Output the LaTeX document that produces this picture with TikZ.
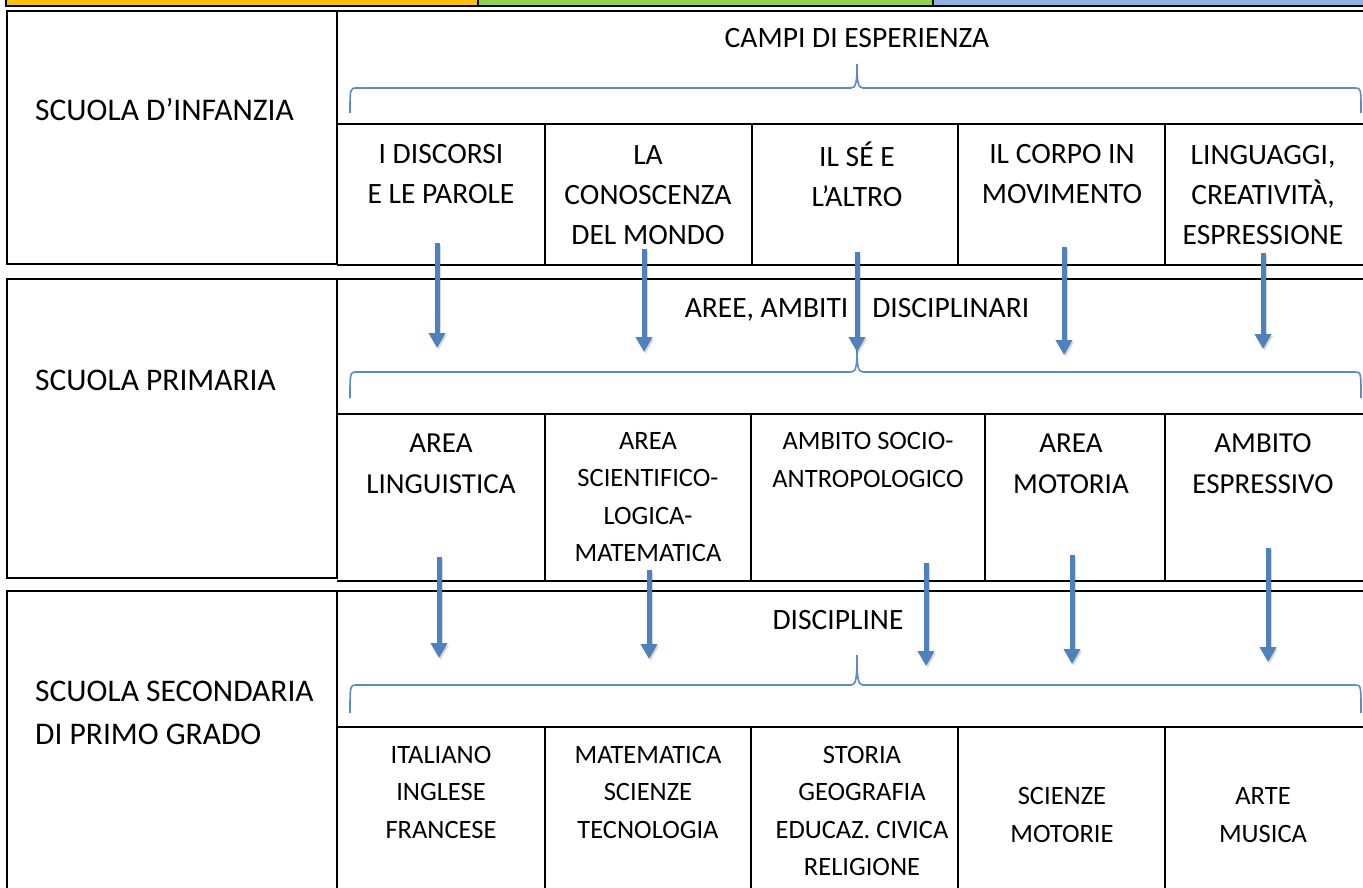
\documentclass[tikz,border=0pt]{standalone}
\usepackage{fontspec}
\setmainfont{Carlito}
\usetikzlibrary{arrows.meta}
\definecolor{arrowblue}{HTML}{4F81BD}
\definecolor{braceblue}{HTML}{5B8BC8}
\definecolor{barorange}{HTML}{FFC000}
\definecolor{bargreen}{HTML}{92D050}
\definecolor{barblue}{HTML}{8DB3E2}
\tikzset{
  cell/.style={font=\fontsize{29.5}{40}\selectfont, align=center, inner sep=0pt},
  smallcell/.style={font=\fontsize{26.5}{37.5}\selectfont, align=center, inner sep=0pt},
  bigcell/.style={font=\fontsize{29}{41}\selectfont, align=center, inner sep=0pt},
  lab/.style={font=\fontsize{31.5}{43}\selectfont, align=left, anchor=west, inner sep=0pt},
  head/.style={font=\fontsize{29.5}{40}\selectfont, inner sep=0pt},
  arr/.style={draw=arrowblue, line width=5pt, -{Triangle[width=16pt,length=15pt]}},
  arrshadow/.style={draw=black, opacity=0.15, line width=5pt, -{Triangle[width=16pt,length=15pt]}},
  bracepath/.style={draw=braceblue, line width=1.6pt},
  frame/.style={draw=black, line width=2pt},
}
\begin{document}
\begin{tikzpicture}[x=1pt,y=-1pt]
\useasboundingbox (0,0) rectangle (1363,888);
\fill[white] (0,0) rectangle (1363,888);
% top colour bar
\fill[barorange] (6,-2) rectangle (478,6);
\fill[bargreen] (478,-2) rectangle (933,6);
\fill[barblue] (933,-2) rectangle (1363,6);
\draw[frame] (6,-2) -- (6,6) -- (1363,6);
\draw[frame] (478,-2) -- (478,6);
\draw[frame] (933,-2) -- (933,6);

% ---------- Row 1 frame ----------
\draw[frame] (7,11) rectangle (337,264);
\draw[frame] (337,11) -- (1363,11);
\draw[frame] (337,124) -- (1363,124);
\draw[frame] (337,265) -- (1363,265);
\foreach \xx in {545,752,958,1165} \draw[frame] (\xx,124) -- (\xx,265);

% ---------- Row 2 frame ----------
\draw[frame] (7,279) rectangle (337,578);
\draw[frame] (337,279) -- (1363,279);
\draw[frame] (337,414) -- (1363,414);
\draw[frame] (337,581) -- (1363,581);
\foreach \xx in {545,751,985,1165} \draw[frame] (\xx,414) -- (\xx,581);

% ---------- Row 3 frame ----------
\draw[frame] (7,889) -- (7,591) -- (337,591) -- (337,889);
\draw[frame] (337,591) -- (1363,591);
\draw[frame] (337,727) -- (1363,727);
\foreach \xx in {545,751,958,1165} \draw[frame] (\xx,727) -- (\xx,889);

% ---------- braces ----------
\foreach \yy/\yt/\ye in {88/64/113, 372/349/398, 685/655/713}{
  \draw[bracepath] (350,\ye) .. controls (350,\yy) .. (357,\yy) -- (851,\yy)
     .. controls (856,\yy) and (857,\yy-6) .. (857,\yt)
     .. controls (857,\yy-6) and (858,\yy) .. (863,\yy) -- (1355,\yy)
     .. controls (1361,\yy) .. (1361,\ye);
}

% ---------- Row 1 texts ----------
\node[lab] (l1) at (35,110) {SCUOLA D’INFANZIA};
\node[head] (h1) at (857,38) {CAMPI DI ESPERIENZA};
\node[cell] (c11) at (441,174) {I DISCORSI\\E LE PAROLE};
\node[cell] (c12) at (648,195) {LA\\CONOSCENZA\\DEL MONDO};
\node[cell] (c13) at (857,174) {IL SÉ E\\L’ALTRO};
\node[cell] (c14) at (1062,174) {IL CORPO IN\\MOVIMENTO};
\node[cell] (c15) at (1263,195) {LINGUAGGI,\\CREATIVITÀ,\\ESPRESSIONE};

% ---------- Row 2 texts ----------
\node[lab] (l2) at (35,380) {SCUOLA PRIMARIA};
\node[head] (h2) at (857,310) {AREE, AMBITI\hspace{24pt}DISCIPLINARI};
\node[bigcell] (c21) at (441,464) {AREA\\LINGUISTICA};
\node[smallcell] (c22) at (648,497) {AREA\\SCIENTIFICO-\\LOGICA-\\MATEMATICA};
\node[smallcell] (c23) at (868,460) {AMBITO SOCIO-\\ANTROPOLOGICO};
\node[bigcell] (c24) at (1071,464) {AREA\\MOTORIA};
\node[bigcell] (c25) at (1263,464) {AMBITO\\ESPRESSIVO};

% ---------- Row 3 texts ----------
\node[lab] (l3) at (35,713) {SCUOLA SECONDARIA\\DI PRIMO GRADO};
\node[head] (h3) at (838,620) {DISCIPLINE};
\node[smallcell] (c31) at (441,792) {ITALIANO\\INGLESE\\FRANCESE};
\node[smallcell] (c32) at (648,792) {MATEMATICA\\SCIENZE\\TECNOLOGIA};
\node[smallcell] (c33) at (862,811) {STORIA\\GEOGRAFIA\\EDUCAZ. CIVICA\\RELIGIONE};
\node[smallcell] (c34) at (1062,815) {SCIENZE\\MOTORIE};
\node[smallcell] (c35) at (1263,815) {ARTE\\MUSICA};

% ---------- arrows ----------
\foreach \n/\xx/\ys/\ye in {a1/437/243/348, a2/644/249/352, a3/857/252/352, a4/1064/247/355, a5/1263/253/349,
                          b1/439/557/658, b2/649/570/659, b3/926/563/666, b4/1072/555/664, b5/1268/548/662}{
  \coordinate (\n s) at (\xx,\ys);
  \coordinate (\n e) at (\xx,\ye);
  \draw[arrshadow, transform canvas={xshift=1.5pt,yshift=-2pt}] (\n s) -- (\n e);
  \draw[arr] (\n s) -- (\n e);
}
\end{tikzpicture}
\end{document}
